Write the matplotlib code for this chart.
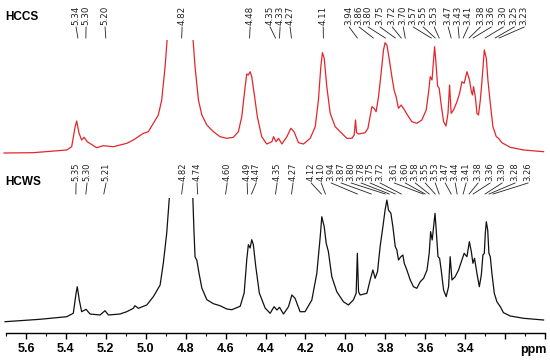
import numpy as np
import matplotlib
matplotlib.use("Agg")
import matplotlib.pyplot as plt
from matplotlib.patches import Rectangle

# ── Spectrum traces: (ppm, height above own baseline) ─────────
hccs = [
    (5.710, 0.0), (5.565, 0.3), (5.396, 3.0), (5.371, 6.3), (5.354, 26.0),
    (5.346, 32.0), (5.334, 19.7), (5.321, 13.0), (5.309, 15.7), (5.293, 11.3),
    (5.246, 5.3), (5.213, 7.3), (5.162, 6.3), (5.095, 9.7), (5.062, 13.0),
    (5.012, 19.7), (4.987, 21.3), (4.962, 29.7), (4.937, 38.0), (4.920, 53.0),
    (4.903, 86.3), (4.892, 116.0), (4.820, 200.0), (4.764, 116.0), (4.753, 86.3),
    (4.736, 53.0), (4.719, 38.0), (4.694, 28.0), (4.661, 21.3), (4.628, 16.3),
    (4.594, 14.7), (4.561, 15.7), (4.536, 21.3), (4.519, 36.3), (4.502, 66.3),
    (4.494, 79.0), (4.486, 78.0), (4.477, 81.3), (4.469, 76.3), (4.457, 59.7),
    (4.441, 36.3), (4.419, 16.3), (4.394, 9.0), (4.368, 11.3), (4.360, 16.3),
    (4.347, 11.3), (4.335, 14.7), (4.318, 9.0), (4.293, 16.3), (4.273, 24.7),
    (4.257, 21.3), (4.235, 10.3), (4.210, 9.0), (4.176, 14.7), (4.151, 26.3),
    (4.135, 53.0), (4.123, 86.3), (4.115, 100.3), (4.106, 94.7), (4.093, 66.3),
    (4.076, 39.7), (4.051, 26.3), (4.018, 19.7), (3.993, 14.7), (3.967, 14.7),
    (3.956, 18.0), (3.949, 33.0), (3.944, 20.3), (3.934, 19.0), (3.901, 20.3),
    (3.887, 24.7), (3.867, 46.3), (3.856, 44.7), (3.846, 41.3), (3.834, 56.3),
    (3.821, 79.7), (3.809, 103.0), (3.801, 110.3), (3.792, 108.0), (3.781, 94.7),
    (3.767, 76.3), (3.756, 63.0), (3.746, 56.3), (3.734, 44.7), (3.721, 48.0),
    (3.709, 44.7), (3.689, 38.0), (3.667, 31.3), (3.642, 29.7), (3.617, 33.0),
    (3.595, 43.0), (3.583, 61.3), (3.575, 76.3), (3.566, 73.0), (3.558, 93.0),
    (3.553, 106.3), (3.546, 89.7), (3.538, 67.0), (3.530, 64.7), (3.521, 49.7),
    (3.508, 31.3), (3.496, 27.0), (3.486, 39.7), (3.478, 68.0), (3.470, 39.7),
    (3.458, 43.0), (3.441, 51.3), (3.428, 59.7), (3.416, 71.3), (3.405, 69.7),
    (3.391, 81.3), (3.378, 73.0), (3.369, 61.3), (3.363, 58.0), (3.358, 66.3),
    (3.349, 56.3), (3.341, 39.7), (3.333, 38.0), (3.324, 53.0), (3.316, 71.3),
    (3.304, 103.0), (3.294, 94.7), (3.286, 73.0), (3.274, 49.7), (3.261, 26.3),
    (3.244, 16.3), (3.233, 14.7), (3.216, 10.3), (3.174, 5.7), (3.107, 3.0),
    (3.007, 1.3),
]

hcws = [
    (5.705, 0.3), (5.530, 2.7), (5.396, 5.3), (5.363, 8.7), (5.349, 28.7),
    (5.343, 35.3), (5.333, 22.0), (5.321, 10.3), (5.299, 12.7), (5.279, 8.0),
    (5.229, 7.0), (5.204, 11.3), (5.187, 7.0), (5.129, 8.0), (5.095, 10.3),
    (5.062, 13.7), (5.054, 16.3), (5.037, 13.7), (4.995, 17.0), (4.962, 25.3),
    (4.928, 37.0), (4.912, 58.7), (4.895, 88.7), (4.882, 123.7), (4.820, 220.0),
    (4.764, 123.7), (4.758, 88.7), (4.753, 65.0), (4.744, 61.7), (4.733, 48.7),
    (4.719, 34.0), (4.694, 22.3), (4.661, 18.3), (4.628, 16.3), (4.594, 13.0),
    (4.569, 12.3), (4.527, 15.7), (4.507, 29.0), (4.494, 62.3), (4.486, 77.3),
    (4.477, 74.0), (4.469, 82.3), (4.461, 77.3), (4.449, 55.7), (4.431, 29.0),
    (4.402, 14.0), (4.377, 8.7), (4.357, 15.3), (4.343, 12.0), (4.330, 14.7),
    (4.310, 8.0), (4.285, 15.3), (4.268, 27.0), (4.252, 23.7), (4.227, 10.3),
    (4.202, 10.3), (4.168, 22.0), (4.143, 48.7), (4.126, 85.3), (4.118, 105.3),
    (4.106, 95.3), (4.096, 78.7), (4.085, 70.3), (4.068, 45.3), (4.043, 30.3),
    (4.010, 20.3), (3.985, 17.0), (3.960, 22.0), (3.946, 28.7), (3.940, 68.7),
    (3.934, 30.3), (3.926, 27.0), (3.892, 28.7), (3.876, 42.0), (3.862, 52.0),
    (3.851, 43.7), (3.839, 50.3), (3.826, 75.3), (3.812, 95.3), (3.801, 112.0),
    (3.792, 122.0), (3.784, 112.0), (3.772, 108.7), (3.762, 95.3), (3.750, 75.3),
    (3.742, 72.0), (3.734, 62.0), (3.722, 65.3), (3.712, 67.0), (3.705, 58.7),
    (3.692, 52.0), (3.675, 42.0), (3.659, 35.3), (3.642, 33.7), (3.625, 40.3),
    (3.608, 43.7), (3.591, 52.0), (3.580, 68.7), (3.573, 90.3), (3.565, 82.0),
    (3.558, 95.3), (3.551, 108.7), (3.545, 92.0), (3.536, 65.3), (3.528, 63.7),
    (3.520, 52.0), (3.508, 32.0), (3.495, 25.3), (3.483, 35.3), (3.475, 65.3),
    (3.466, 42.0), (3.450, 45.3), (3.433, 52.0), (3.416, 62.0), (3.405, 68.7),
    (3.391, 65.3), (3.379, 80.3), (3.369, 70.3), (3.361, 58.7), (3.353, 63.7),
    (3.341, 48.7), (3.329, 35.3), (3.319, 47.0), (3.311, 67.0), (3.304, 68.7),
    (3.299, 88.7), (3.294, 100.3), (3.287, 92.0), (3.281, 68.7), (3.274, 65.3),
    (3.266, 48.7), (3.254, 28.7), (3.241, 20.3), (3.224, 15.3), (3.208, 9.3),
    (3.174, 6.0), (3.107, 3.7), (3.007, 2.0),
]

# ── Peak labels ─────────────────────────────────────────────
hccs_peaks = [5.34, 5.30, 5.20, 4.82, 4.48, 4.35, 4.33, 4.27, 4.11, 3.94,
              3.86, 3.80, 3.75, 3.72, 3.70, 3.57, 3.55, 3.53, 3.47, 3.43,
              3.41, 3.38, 3.36, 3.30, 3.25, 3.23]
hcws_peaks = [5.35, 5.30, 5.21, 4.82, 4.74, 4.60, 4.49, 4.47, 4.35, 4.27,
              4.12, 4.10, 3.94, 3.87, 3.80, 3.78, 3.75, 3.72, 3.61, 3.60,
              3.58, 3.55, 3.53, 3.47, 3.44, 3.41, 3.38, 3.36, 3.30, 3.28, 3.26]

# label text positions (ppm) after spreading
hccs_lab_x = [5.349, 5.299, 5.204, 4.818, 4.477, 4.377, 4.327, 4.277, 4.111,
              3.981, 3.931, 3.886, 3.826, 3.765, 3.710, 3.660, 3.610, 3.555,
              3.485, 3.435, 3.385, 3.324, 3.269, 3.209, 3.154, 3.104]
hcws_lab_x = [5.349, 5.294, 5.199, 4.813, 4.743, 4.592, 4.492, 4.447, 4.342,
              4.262, 4.171, 4.121, 4.071, 4.021, 3.971, 3.921, 3.876, 3.826,
              3.755, 3.700, 3.650, 3.600, 3.550, 3.500, 3.450, 3.395, 3.335,
              3.275, 3.215, 3.150, 3.085]

xticks = [5.6, 5.4, 5.2, 5.0, 4.8, 4.6, 4.4, 4.2, 4.0, 3.8, 3.6, 3.4, 3.2, 3.0]
xtick_labels = ["5.6", "5.4", "5.2", "5.0", "4.8", "4.6", "4.4", "4.2",
                "4.0", "3.8", "3.6", "3.4", "", ""]

# ── Layout (pixel-like data units, 0 = axis line) ────────────
TOP_BASE, BOT_BASE = 180, 11
TOP_CLIP, BOT_CLIP = 293, 135
RED = "#e3262b"
LAB_COL = "#222222"

fig = plt.figure(figsize=(5.5, 3.6), dpi=100)
ax = fig.add_axes([6 / 550, 27 / 360, 539 / 550, 333 / 360])
ax.set_xlim(5.70, 3.0)
ax.set_ylim(0, 333)
for s in ("left", "right", "top"):
    ax.spines[s].set_visible(False)
ax.spines["bottom"].set_linewidth(1.0)
ax.set_yticks([])
ax.set_xticks(xticks)
ax.set_xticklabels(xtick_labels, fontfamily="Liberation Sans",
                   fontweight="bold", fontsize=9)
ax.set_xticks(np.round(np.arange(5.7, 2.95, -0.1), 2), minor=True)
ax.tick_params(axis="x", which="major", length=4, width=1.0, pad=3)
ax.tick_params(axis="x", which="minor", length=2, width=0.8)
ax.text(3.06, -0.052, "ppm", transform=ax.get_xaxis_transform(),
        ha="center", va="center", fontfamily="Liberation Sans",
        fontweight="bold", fontsize=9)


def draw_spectrum(pairs, base, clip_top, color):
    x = [p[0] for p in pairs]
    y = [p[1] + base for p in pairs]
    ln, = ax.plot(x, y, color=color, lw=0.9)
    clip = Rectangle((2.9, 0), 3.0, clip_top, transform=ax.transData)
    ln.set_clip_path(clip)


def draw_labels(peaks, lab_x, y_text, y0, y1, fs):
    for v, lx in zip(peaks, lab_x):
        ax.text(lx, y_text, f"{v:.2f}", rotation=90, ha="center",
                va="bottom", fontsize=fs, color=LAB_COL)
        ax.plot([lx, v], [y0, y1], color=LAB_COL, lw=0.6)


draw_spectrum(hccs, TOP_BASE, TOP_CLIP, RED)
draw_spectrum(hcws, BOT_BASE, BOT_CLIP, "#111111")

draw_labels(hccs_peaks, hccs_lab_x, 308, 306, 295, 6.3)
draw_labels(hcws_peaks, hcws_lab_x, 152, 150, 139, 6.0)

ax.text(5.705, 316, "HCCS", ha="left", va="center", fontsize=8.5,
        fontfamily="Liberation Sans", fontweight="bold")
ax.text(5.705, 151, "HCWS", ha="left", va="center", fontsize=8.5,
        fontfamily="Liberation Sans", fontweight="bold")

fig.savefig("out.png", dpi=100)
